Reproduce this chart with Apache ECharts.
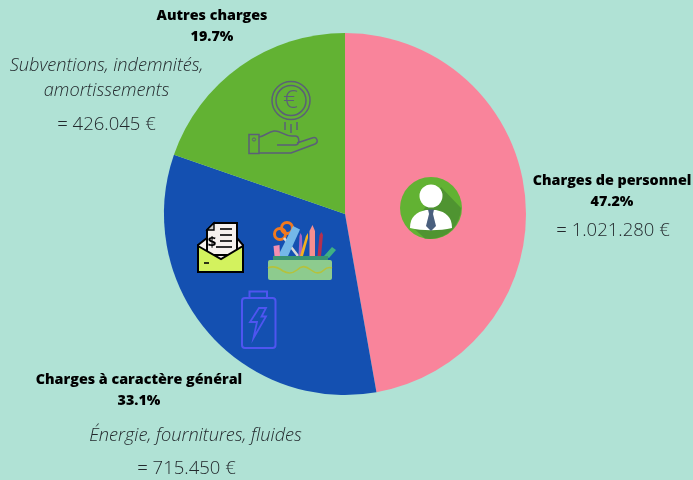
<!DOCTYPE html>
<html>
<head>
<meta charset="utf-8">
<title>Répartition des charges</title>
<script src="https://cdn.jsdelivr.net/npm/echarts@6/dist/echarts.min.js"></script>
<style>
  html, body { margin: 0; padding: 0; background: #b0e2d5; }
  #chart { width: 693px; height: 480px; }
</style>
</head>
<body>
<div id="chart"></div>
<script>
// données
const categories = ['Charges de personnel', 'Charges à caractère général', 'Autres charges'];
const amounts = [1021280, 715450, 426045];
const amountLabels = ['= 1.021.280 €', '= 715.450 €', '= 426.045 €'];
const details = ['', 'Énergie, fournitures, fluides', 'Subventions, indemnités,\namortissements'];

const sliceColors = ['#f9849b', '#1450b1', '#62b233'];
const inkColor = '#23292d';
const iconColor = '#5b5f78';

// position des libellés : [x, y]
const labelSpots = [[612, 191.5], [139, 390.5], [212, 26.5]];
const amountSpots = [[613, 230.5], [186.5, 468.5], [106.5, 124.5]];
const detailSpots = [null, [195.5, 435.5], [106.5, 78]];

let shapeCount = 0;

function lightText(str, spot, size, italic) {
  return {
    type: 'text', x: spot[0], y: spot[1],
    style: {
      text: str, fill: inkColor, align: 'center', verticalAlign: 'middle',
      font: (italic ? 'italic ' : '') + '300 ' + size + 'px "Open Sans"',
      lineHeight: 25
    }
  };
}

function line(pts, color, width) {
  return { type: 'polyline', shape: { points: pts }, style: { stroke: color, lineWidth: width, fill: null } };
}

// le composant graphic n'a pas de type "path" : on enregistre une forme par tracé
function path(d, fill, stroke, width) {
  const name = 'iconPath' + (shapeCount++);
  echarts.graphic.registerShape(name, echarts.graphic.extendPath(d, {}));
  return { type: name, style: { fill: fill || null, stroke: stroke || null, lineWidth: width || 0 } };
}

// icône personne
function personIcon() {
  return [
    { type: 'circle', shape: { cx: 431, cy: 208, r: 31 }, style: { fill: '#62b233' } },
    path('M441 187 L461 208 A31 31 0 0 1 425 238.5 L411 226 Z', '#4f9431'),
    { type: 'circle', shape: { cx: 431, cy: 196, r: 11.5 }, style: { fill: '#fff' } },
    path('M410 228 C410 217 416 212 426 210 L436 210 C446 212 452 217 452 228 C440 231 422 231 410 228 Z', '#fff'),
    path('M428 209.5 L434 209.5 L433 214 L436 226 L431 231 L426 226 L429 214 Z', '#4a5f7e')
  ];
}

// icône main + pièce
function coinIcon() {
  return [
    { type: 'circle', shape: { cx: 291, cy: 100.5, r: 19 }, style: { fill: null, stroke: iconColor, lineWidth: 1.5 } },
    { type: 'circle', shape: { cx: 291, cy: 100.5, r: 15 }, style: { fill: null, stroke: iconColor, lineWidth: 1.5 } },
    { type: 'text', x: 290.5, y: 100.5, style: { text: '€', fill: iconColor, align: 'center', verticalAlign: 'middle', font: '300 26px "Open Sans"' } },
    line([[285, 122], [285, 130]], iconColor, 1.5),
    line([[291, 124], [291, 133]], iconColor, 1.5),
    line([[297, 122], [297, 130]], iconColor, 1.5),
    { type: 'rect', shape: { x: 249, y: 134.5, width: 10, height: 19 }, style: { fill: null, stroke: iconColor, lineWidth: 1.5 } },
    { type: 'circle', shape: { cx: 254, cy: 139.5, r: 1.6 }, style: { fill: null, stroke: iconColor, lineWidth: 1 } },
    path('M259 137 C265 136 268 132 274 131 C280 130 284 136 292 136 L295 136 C300 136 300 145 295 145 L277 145 M297 143 L312 138 C317 136 319 142 315 144 L291 153 L259 153',
      null, iconColor, 1.5)
  ];
}

// icône enveloppe
function envelopeIcon() {
  return [
    path('M198 245 L207 238 L237 238 L243 245 L243 272 L198 272 Z', '#f6f1ee', '#000', 2),
    path('M214 223 L237 223 L237 255 L207 255 L207 230 Z', '#f6f1ee', '#000', 2),
    path('M207 230 L214 230 L214 223 Z', '#c9c9c9', '#000', 1.4),
    line([[220, 229], [232, 229]], '#000', 1.6),
    line([[220, 235], [232, 235]], '#000', 1.6),
    line([[220, 241], [232, 241]], '#000', 1.6),
    line([[216, 247], [232, 247]], '#000', 1.6),
    { type: 'text', x: 212, y: 243, style: { text: '$', fill: '#000', align: 'center', verticalAlign: 'middle', font: '700 15px "Open Sans"' } },
    path('M198 246 L221 259 L243 246 L243 272 L198 272 Z', '#d3f25e', '#000', 2),
    line([[204, 263], [209, 263]], '#000', 1.6)
  ];
}

// icône trousse
function pencilCaseIcon() {
  return [
    { type: 'circle', shape: { cx: 280, cy: 234, r: 5.5 }, style: { fill: null, stroke: '#f2791e', lineWidth: 3 } },
    { type: 'circle', shape: { cx: 287, cy: 228, r: 5.5 }, style: { fill: null, stroke: '#f2791e', lineWidth: 3 } },
    line([[284, 238], [298, 256]], '#d8d8d8', 2.6),
    path('M278 256 L293 226 L300 229.5 L288 256 Z', '#74b8e8'),
    path('M298.5 256 L299.5 236 L300.5 233 L302 236 L302.5 256 Z', '#a565c4'),
    path('M300 256 L306 236 L308 233 L308 238 L303 256 Z', '#f6b020'),
    path('M309.5 256 L309.5 231 L312.5 225 L315 231 L315 256 Z', '#f58f8f'),
    path('M317.5 256 L319.5 235 L321.5 232 L323 235 L321 256 Z', '#b5304f'),
    path('M273.5 246 L279.5 245 L280 256 L274.5 256 Z', '#f28fb0'),
    path('M324 256 L332 247 L336 250 L329 258 Z', '#3fb083'),
    { type: 'rect', shape: { x: 273, y: 256, width: 55, height: 5 }, style: { fill: '#3a9472' } },
    { type: 'rect', shape: { x: 268, y: 260, width: 64, height: 20, r: 2 }, style: { fill: '#8dcb8e' } },
    path('M268 268 C274 265 279 268 283 271 C288 274 292 274 297 270 C302 265 306 266 311 270 C316 274 320 274 324 270 C326 268 329 267 332 268', null, '#b5c23c', 1.6)
  ];
}

// icône batterie
function batteryIcon() {
  return [
    { type: 'rect', shape: { x: 242, y: 298, width: 33.5, height: 50, r: 3 }, style: { fill: null, stroke: '#4f55f0', lineWidth: 2 } },
    path('M249.5 298 L249.5 291.5 L267 291.5 L267 298', null, '#4f55f0', 2),
    path('M259 308 L266 308 L261.5 316.5 L266 316.5 L253.5 338 L257 322 L250 322 Z', null, '#4f55f0', 1.8)
  ];
}

const chart = echarts.init(document.getElementById('chart'));

const texts = [];
amountLabels.forEach(function (str, i) {
  texts.push(lightText(str, amountSpots[i], 18.5, false));
  if (details[i]) texts.push(lightText(details[i], detailSpots[i], 18.2, true));
});

chart.setOption({
  backgroundColor: '#b0e2d5',
  animation: false,
  series: [{
    type: 'pie',
    center: [345, 214],
    radius: [0, 181],
    startAngle: 90,
    clockwise: true,
    percentPrecision: 1,
    silent: true,
    data: categories.map(function (name, i) {
      return { name: name, value: amounts[i], itemStyle: { color: sliceColors[i] } };
    }),
    label: {
      show: true,
      position: 'outside',
      formatter: '{b}\n{d}%',
      color: '#000',
      fontFamily: 'Open Sans',
      fontWeight: 800,
      fontSize: 14.3,
      lineHeight: 21,
      width: 260,
      align: 'center'
    },
    labelLine: { show: false },
    labelLayout: function (params) {
      const spot = labelSpots[params.dataIndex];
      return { x: spot[0], y: spot[1], align: 'center', verticalAlign: 'middle', hideOverlap: false };
    }
  }],
  graphic: {
    elements: texts
      .concat(personIcon(), coinIcon(), envelopeIcon(), pencilCaseIcon(), batteryIcon())
      .map(function (el, i) { el.silent = true; el.z = 100 + i; return el; })
  }
});
</script>
</body>
</html>
